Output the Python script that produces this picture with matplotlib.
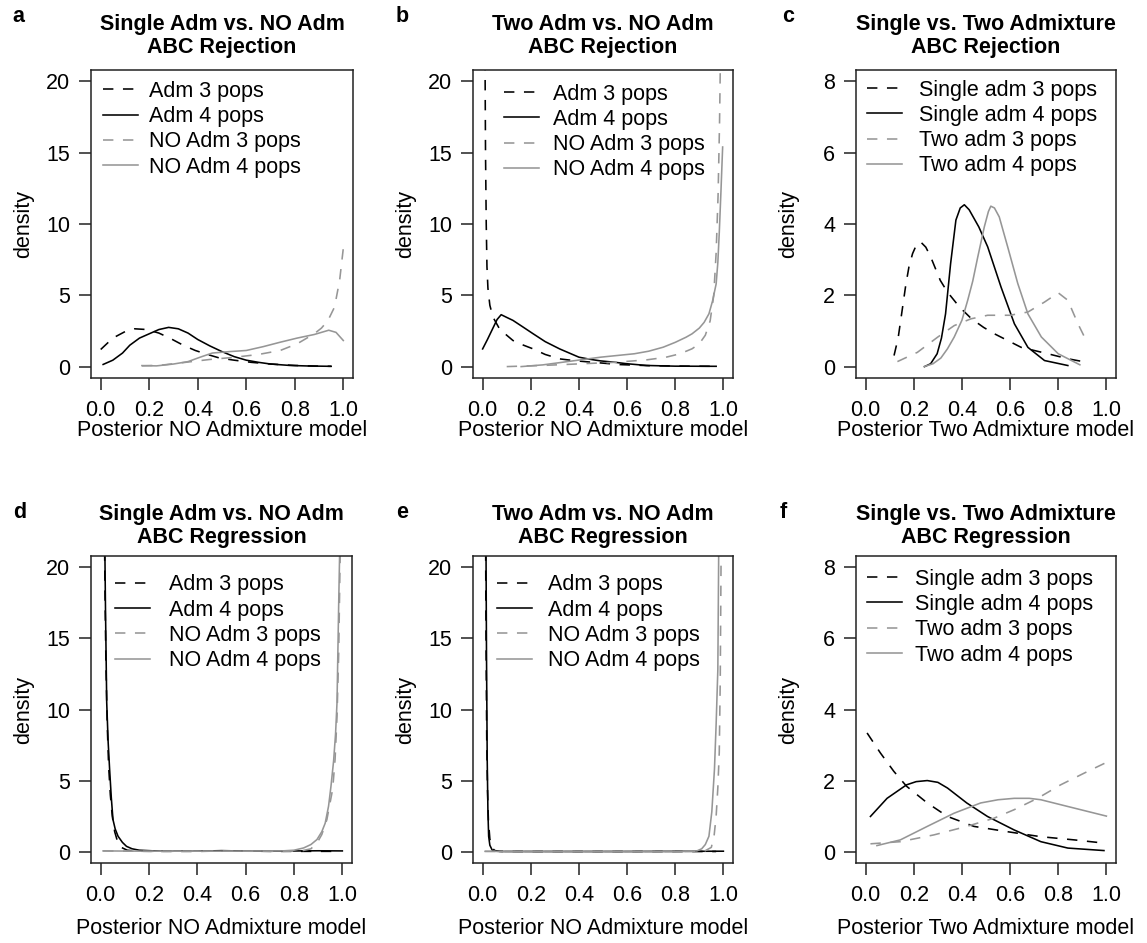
import matplotlib
matplotlib.use("Agg")
import matplotlib.pyplot as plt

plt.rcParams['font.family'] = ['Liberation Sans', 'DejaVu Sans']

# ---- panel a : Single Adm vs NO Adm, ABC rejection ----
a_adm3_x = [0.0, 0.05, 0.10, 0.14, 0.19, 0.24, 0.29, 0.34, 0.39, 0.44, 0.49, 0.55, 0.62, 0.70, 0.80, 0.90, 0.95]
a_adm3_y = [1.2, 2.0, 2.45, 2.65, 2.6, 2.35, 1.95, 1.5, 1.13, 0.85, 0.6, 0.45, 0.3, 0.18, 0.08, 0.03, 0.02]
a_adm4_x = [0.01, 0.05, 0.09, 0.12, 0.16, 0.20, 0.24, 0.28, 0.32, 0.36, 0.40, 0.45, 0.50, 0.55, 0.60, 0.65, 0.70, 0.78, 0.86, 0.95]
a_adm4_y = [0.15, 0.45, 0.95, 1.5, 2.0, 2.3, 2.6, 2.75, 2.65, 2.35, 1.9, 1.45, 1.05, 0.7, 0.45, 0.3, 0.18, 0.08, 0.04, 0.02]
a_no3_x = [0.17, 0.25, 0.35, 0.45, 0.55, 0.65, 0.74, 0.81, 0.88, 0.91, 0.937, 0.964, 0.985, 1.0]
a_no3_y = [0.05, 0.1, 0.3, 0.5, 0.65, 0.85, 1.13, 1.6, 2.3, 2.7, 3.24, 4.18, 6.06, 8.29]
a_no4_x = [0.17, 0.23, 0.30, 0.36, 0.41, 0.46, 0.53, 0.60, 0.67, 0.74, 0.81, 0.88, 0.94, 0.97, 1.0]
a_no4_y = [0.07, 0.05, 0.18, 0.35, 0.66, 0.95, 1.05, 1.13, 1.4, 1.71, 2.0, 2.25, 2.55, 2.4, 1.83]

# ---- panel b : Two Adm vs NO Adm, ABC rejection ----
b_adm3_x = [0.010, 0.012, 0.015, 0.018, 0.022, 0.030, 0.043, 0.07, 0.10, 0.126, 0.17, 0.21, 0.26, 0.32, 0.39, 0.46, 0.57, 0.70, 0.85, 0.97]
b_adm3_y = [21.5, 15, 10, 7, 5.5, 4.3, 3.47, 2.65, 2.2, 1.83, 1.5, 1.24, 0.85, 0.54, 0.4, 0.3, 0.14, 0.06, 0.03, 0.02]
b_adm4_x = [0.0, 0.02, 0.04, 0.06, 0.077, 0.10, 0.126, 0.17, 0.21, 0.26, 0.32, 0.36, 0.40, 0.45, 0.49, 0.55, 0.60, 0.68, 0.80, 0.97]
b_adm4_y = [1.24, 1.9, 2.6, 3.3, 3.64, 3.45, 3.24, 2.75, 2.3, 1.75, 1.24, 0.95, 0.66, 0.5, 0.4, 0.3, 0.2, 0.08, 0.03, 0.02]
b_no3_x = [0.10, 0.25, 0.40, 0.55, 0.68, 0.76, 0.82, 0.87, 0.90, 0.925, 0.945, 0.96, 0.97, 0.978, 0.984, 0.988]
b_no3_y = [0.0, 0.08, 0.19, 0.3, 0.47, 0.65, 0.9, 1.25, 1.6, 2.2, 3.2, 5, 8, 12, 17, 22]
b_no4_x = [0.16, 0.25, 0.33, 0.41, 0.49, 0.56, 0.63, 0.69, 0.75, 0.80, 0.845, 0.87, 0.90, 0.92, 0.94, 0.955, 0.97, 0.977, 0.983, 0.99, 0.997]
b_no4_y = [0.0, 0.12, 0.3, 0.48, 0.66, 0.78, 0.9, 1.08, 1.36, 1.7, 2.06, 2.3, 2.7, 3.1, 3.7, 4.6, 5.8, 7.3, 9.4, 12.3, 15.4]

# ---- panel c : Single vs Two admixture, ABC rejection ----
c_s3_x = [0.118, 0.135, 0.15, 0.167, 0.18, 0.195, 0.21, 0.228, 0.25, 0.27, 0.31, 0.34, 0.39, 0.44, 0.49, 0.535, 0.646, 0.757, 0.84, 0.903]
c_s3_y = [0.31, 0.8, 1.5, 2.3, 2.8, 3.17, 3.4, 3.5, 3.35, 3.08, 2.42, 2.09, 1.67, 1.34, 1.1, 0.92, 0.54, 0.36, 0.22, 0.14]
c_s4_x = [0.245, 0.27, 0.297, 0.315, 0.332, 0.353, 0.375, 0.393, 0.41, 0.43, 0.47, 0.507, 0.5625, 0.618, 0.674, 0.743, 0.84]
c_s4_y = [0.0, 0.08, 0.36, 0.8, 1.48, 2.89, 4.11, 4.45, 4.54, 4.4, 3.92, 3.36, 2.23, 1.2, 0.54, 0.17, 0.03]
c_t3_x = [0.132, 0.215, 0.3, 0.368, 0.4375, 0.507, 0.6, 0.674, 0.743, 0.8, 0.84, 0.882, 0.92]
c_t3_y = [0.14, 0.4, 0.83, 1.15, 1.34, 1.44, 1.44, 1.53, 1.81, 2.07, 1.86, 1.2, 0.68]
c_t4_x = [0.243, 0.28, 0.3125, 0.34, 0.368, 0.4, 0.424, 0.445, 0.465, 0.493, 0.51, 0.52, 0.535, 0.555, 0.59, 0.632, 0.674, 0.73, 0.8, 0.89]
c_t4_y = [0.0, 0.08, 0.24, 0.5, 0.83, 1.3, 1.86, 2.4, 3.05, 3.92, 4.35, 4.5, 4.45, 4.2, 3.36, 2.33, 1.48, 0.83, 0.36, 0.05]

# ---- panel d : Single Adm vs NO Adm, ABC regression ----
d_adm3_x = [0.015, 0.018, 0.022, 0.027, 0.033, 0.04, 0.048, 0.058, 0.07, 0.085, 0.11, 0.15, 0.25, 0.4, 0.55, 0.7, 0.85, 0.98]
d_adm3_y = [24, 18, 13, 9, 6, 4, 2.5, 1.4, 0.7, 0.3, 0.1, 0.03, 0.02, 0.02, 0.05, 0.02, 0.02, 0.02]
d_adm4_x = [0.015, 0.02, 0.025, 0.031, 0.037, 0.044, 0.051, 0.06, 0.072, 0.09, 0.107, 0.13, 0.16, 0.25, 0.4, 0.5, 0.6, 0.75, 0.9, 1.0]
d_adm4_y = [25, 17, 10.5, 7.7, 5.8, 3.8, 2.25, 1.6, 1.08, 0.65, 0.37, 0.2, 0.1, 0.03, 0.03, 0.07, 0.04, 0.04, 0.06, 0.05]
d_no3_x = [0.01, 0.2, 0.4, 0.6, 0.75, 0.83, 0.87, 0.895, 0.915, 0.936, 0.95, 0.96, 0.97, 0.978, 0.985, 0.992]
d_no3_y = [0.05, 0.02, 0.03, 0.03, 0.02, 0.05, 0.2, 0.6, 1.2, 2.25, 3.5, 4.4, 6.5, 9.5, 14, 22]
d_no4_x = [0.01, 0.2, 0.4, 0.6, 0.75, 0.8, 0.84, 0.87, 0.895, 0.915, 0.929, 0.943, 0.953, 0.964, 0.972, 0.978, 0.985, 0.99]
d_no4_y = [0.05, 0.03, 0.03, 0.04, 0.05, 0.1, 0.26, 0.5, 0.85, 1.4, 2.0, 3.2, 4.6, 6.4, 8.3, 10.5, 17.5, 22]

# ---- panel e : Two Adm vs NO Adm, ABC regression ----
e_adm3_x = [0.012, 0.014, 0.017, 0.02, 0.024, 0.03, 0.038, 0.05, 0.07, 0.2, 0.4, 0.6, 0.8, 0.97]
e_adm3_y = [24, 15, 8, 4.5, 2.2, 0.9, 0.3, 0.08, 0.02, 0.01, 0.01, 0.01, 0.01, 0.01]
e_adm4_x = [0.013, 0.016, 0.019, 0.022, 0.025, 0.03, 0.04, 0.055, 0.08, 0.2, 0.4, 0.6, 0.8, 1.0]
e_adm4_y = [25, 14, 6.5, 2.8, 1.08, 0.45, 0.1, 0.03, 0.01, 0.01, 0.01, 0.01, 0.02, 0.03]
e_no3_x = [0.01, 0.2, 0.4, 0.6, 0.8, 0.92, 0.95, 0.962, 0.97, 0.977, 0.983, 0.987, 0.991]
e_no3_y = [0.02, 0.01, 0.01, 0.01, 0.01, 0.02, 0.3, 1.2, 2.5, 4.5, 7, 12, 22]
e_no4_x = [0.01, 0.2, 0.4, 0.6, 0.8, 0.89, 0.91, 0.925, 0.94, 0.952, 0.963, 0.97, 0.977, 0.981]
e_no4_y = [0.02, 0.01, 0.01, 0.01, 0.01, 0.05, 0.2, 0.5, 1.08, 2.8, 5.8, 9, 12.8, 22]

# ---- panel f : Single vs Two admixture, ABC regression ----
f_s3_x = [0.006, 0.061, 0.117, 0.17, 0.256, 0.34, 0.45, 0.59, 0.728, 0.867, 0.99]
f_s3_y = [3.34, 2.78, 2.26, 1.84, 1.37, 0.99, 0.71, 0.56, 0.42, 0.33, 0.24]
f_s4_x = [0.02, 0.089, 0.17, 0.21, 0.256, 0.30, 0.34, 0.42, 0.506, 0.617, 0.728, 0.84, 0.99]
f_s4_y = [0.99, 1.5, 1.88, 1.97, 2.0, 1.95, 1.79, 1.37, 0.99, 0.61, 0.28, 0.1, 0.03]
f_t3_x = [0.02, 0.144, 0.283, 0.42, 0.533, 0.617, 0.714, 0.81, 0.908, 1.0]
f_t3_y = [0.22, 0.28, 0.47, 0.71, 0.94, 1.18, 1.5, 1.88, 2.21, 2.51]
f_t4_x = [0.047, 0.144, 0.256, 0.367, 0.478, 0.55, 0.617, 0.68, 0.728, 0.84, 1.0]
f_t4_y = [0.17, 0.33, 0.71, 1.08, 1.37, 1.46, 1.5, 1.5, 1.46, 1.27, 1.0]

noadm_labels = ["Adm 3 pops", "Adm 4 pops", "NO Adm 3 pops", "NO Adm 4 pops"]
twoadm_labels = ["Single adm 3 pops", "Single adm 4 pops", "Two adm 3 pops", "Two adm 4 pops"]

GRAY = '#969696'
FS = 15.5
DASH = (0, (6.5, 6))

fig = plt.figure(figsize=(11.47, 9.43), dpi=100)
W, H = 1147, 943

def make_axes(left, top, right, bottom):
    return fig.add_axes([left / W, 1 - bottom / H, (right - left) / W, (bottom - top) / H])

panels = [
    dict(letter='a', title="Single Adm vs. NO Adm\nABC Rejection", box=(91, 70, 353, 378),
         curves=[(a_adm3_x, a_adm3_y), (a_adm4_x, a_adm4_y), (a_no3_x, a_no3_y), (a_no4_x, a_no4_y)],
         labels=noadm_labels, ymax=20, yticks=[0, 5, 10, 15, 20], xlabel="Posterior NO Admixture model",
         leg=(0.046, 0.965, 0.5), lx=18),
    dict(letter='b', title="Two Adm vs. NO Adm\nABC Rejection", box=(473, 70, 733, 378),
         curves=[(b_adm3_x, b_adm3_y), (b_adm4_x, b_adm4_y), (b_no3_x, b_no3_y), (b_no4_x, b_no4_y)],
         labels=noadm_labels, ymax=20, yticks=[0, 5, 10, 15, 20], xlabel="Posterior NO Admixture model",
         leg=(0.119, 0.956, 0.65), lx=402),
    dict(letter='c', title="Single vs. Two Admixture\nABC Rejection", box=(856, 70, 1116, 378),
         curves=[(c_s3_x, c_s3_y), (c_s4_x, c_s4_y), (c_t3_x, c_t3_y), (c_t4_x, c_t4_y)],
         labels=twoadm_labels, ymax=8, yticks=[0, 2, 4, 6, 8], xlabel="Posterior Two Admixture model",
         leg=(0.042, 0.969, 0.8), lx=788),
    dict(letter='d', title="Single Adm vs. NO Adm\nABC Regression", box=(91, 556, 352, 863),
         curves=[(d_adm3_x, d_adm3_y), (d_adm4_x, d_adm4_y), (d_no3_x, d_no3_y), (d_no4_x, d_no4_y)],
         labels=noadm_labels, ymax=20, yticks=[0, 5, 10, 15, 20], xlabel="Posterior NO Admixture model",
         leg=(0.092, 0.94, 0.88), lx=20),
    dict(letter='e', title="Two Adm vs. NO Adm\nABC Regression", box=(473, 556, 733, 863),
         curves=[(e_adm3_x, e_adm3_y), (e_adm4_x, e_adm4_y), (e_no3_x, e_no3_y), (e_no4_x, e_no4_y)],
         labels=noadm_labels, ymax=20, yticks=[0, 5, 10, 15, 20], xlabel="Posterior NO Admixture model",
         leg=(0.092, 0.94, 0.75), lx=402),
    dict(letter='f', title="Single vs. Two Admixture\nABC Regression", box=(856, 556, 1116, 863),
         curves=[(f_s3_x, f_s3_y), (f_s4_x, f_s4_y), (f_t3_x, f_t3_y), (f_t4_x, f_t4_y)],
         labels=twoadm_labels, ymax=8, yticks=[0, 2, 4, 6, 8], xlabel="Posterior Two Admixture model",
         leg=(0.042, 0.959, 0.6), lx=783),
]

styles = [('black', DASH), ('black', '-'), (GRAY, DASH), (GRAY, '-')]

for i, p in enumerate(panels):
    left, top, right, bottom = p['box']
    ax = make_axes(left, top, right, bottom)
    for (x, y), (col, ls), lab in zip(p['curves'], styles, p['labels']):
        ax.plot(x, y, color=col, linestyle=ls, linewidth=1.15, label=lab)

    ax.set_xlim(-0.04, 1.04)
    ax.set_ylim(-0.04 * p['ymax'], 1.04 * p['ymax'])
    ax.set_xticks([0.0, 0.2, 0.4, 0.6, 0.8, 1.0])
    ax.set_xticklabels(["0.0", "0.2", "0.4", "0.6", "0.8", "1.0"])
    ax.set_yticks(p['yticks'])
    ax.tick_params(direction='out', length=8.6, width=1.1, labelsize=FS, color='#222222')
    ax.tick_params(axis='x', pad=7)
    ax.tick_params(axis='y', pad=6.5)
    for sp in ax.spines.values():
        sp.set_linewidth(1.1)
        sp.set_color('#222222')

    top_row = i < 3
    ax.set_title(p['title'], fontsize=FS, fontweight='bold', pad=12 if top_row else 9, linespacing=1.15)
    ax.set_xlabel(p['xlabel'], fontsize=FS)
    ax.set_ylabel("density", fontsize=FS)
    ax.xaxis.label.set_va('center')
    ax.yaxis.label.set_va('center')
    ax.xaxis.set_label_coords(0.5, -0.169 if top_row else -0.212)
    ax.yaxis.set_label_coords(-0.258, 0.5)

    lx, ly, tp = p['leg']
    ax.legend(loc='upper left', bbox_to_anchor=(lx, ly), frameon=False, fontsize=FS,
              handlelength=1.63, handletextpad=tp, labelspacing=0.2, borderpad=0, borderaxespad=0)

    fig.text(p['lx'] / W, 1 - (17 if top_row else 512) / H, p['letter'], fontsize=FS,
             fontweight='bold', ha='center', va='center')

fig.savefig("out.png", dpi=100)
